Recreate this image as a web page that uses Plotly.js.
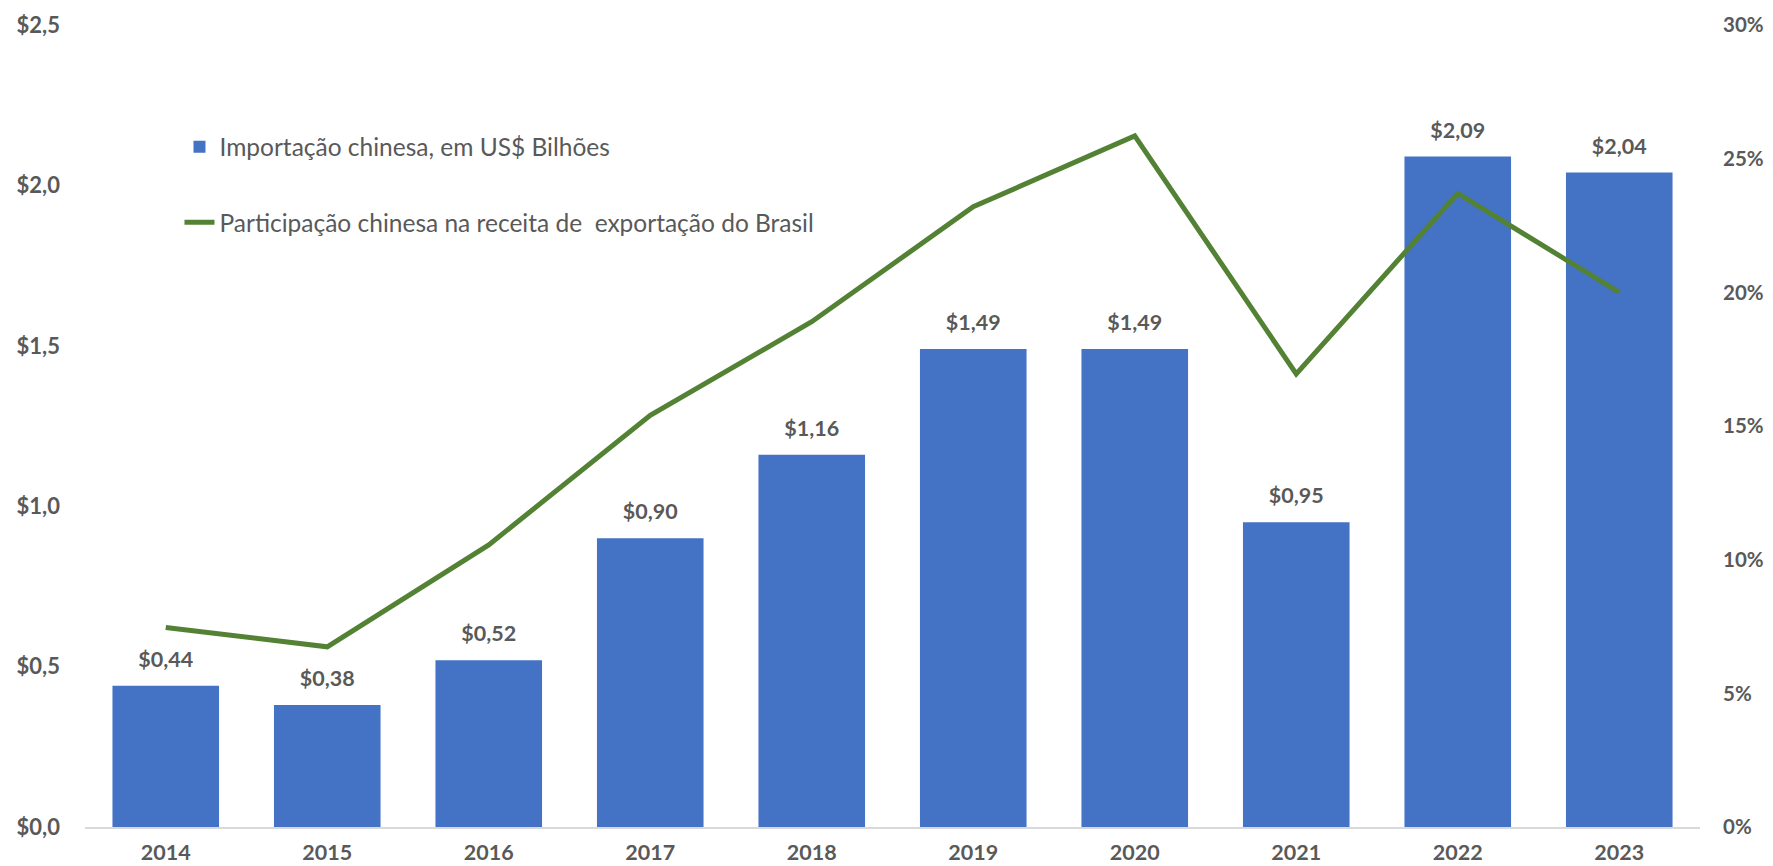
<!DOCTYPE html>
<html>
<head>
<meta charset="utf-8">
<script src="https://cdn.plot.ly/plotly-3.0.1.min.js"></script>
<style>html,body{margin:0;padding:0;background:#fff;}#chart{width:1773px;height:866px;}</style>
</head>
<body>
<div id="chart"></div>
<script>
const years = ['2014','2015','2016','2017','2018','2019','2020','2021','2022','2023'];
const importValues = [0.44, 0.38, 0.52, 0.90, 1.16, 1.49, 1.49, 0.95, 2.09, 2.04];
const sharePercent = [7.46, 6.74, 10.55, 15.4, 18.9, 23.2, 25.85, 16.95, 23.7, 20.0];
const barName = 'Importação chinesa, em US$ Bilhões';
const lineName = 'Participação chinesa na receita de  exportação do Brasil';

const textColor = '#595959';
const fontFam = 'Lato, "Open Sans", sans-serif';

const traces = [
  {
    type: 'bar', x: years, y: importValues, name: barName,
    marker: {color: '#4472C4'},
    legend: 'legend', hoverinfo: 'x+y'
  },
  {
    // value labels above the bars
    type: 'scatter', mode: 'markers+text', x: years, y: importValues,
    marker: {size: 20, color: 'rgba(0,0,0,0)'},
    texttemplate: '$%{y:.2f}', textposition: 'top center', cliponaxis: false,
    textfont: {family: fontFam, size: 21.5, color: textColor, weight: 'bold'},
    showlegend: false, hoverinfo: 'skip'
  },
  {
    type: 'scatter', mode: 'lines', x: years, y: sharePercent, name: lineName,
    yaxis: 'y2', line: {color: '#548235', width: 5},
    legend: 'legend2'
  }
];

const layout = {
  width: 1773, height: 866,
  margin: {l: 85, r: 73, t: 25, b: 39},
  paper_bgcolor: '#fff', plot_bgcolor: '#fff',
  separators: ',.',
  bargap: 0.34,
  font: {family: fontFam, color: textColor},
  xaxis: {
    type: 'category', range: [-0.5, 9.5], autorange: false,
    showgrid: false, zeroline: false,
    showline: true, linecolor: '#d9d9d9', linewidth: 1.5,
    ticks: '', tickfont: {family: fontFam, size: 21.5, color: textColor, weight: 'bold'},
    ticklabelstandoff: 6
  },
  yaxis: {
    range: [0, 2.5], dtick: 0.5, tickformat: '.1f', tickprefix: '$',
    showgrid: false, zeroline: false, showline: false, ticks: '',
    tickfont: {family: fontFam, size: 22, color: textColor, weight: 'bold'},
    ticklabelstandoff: 24
  },
  yaxis2: {
    overlaying: 'y', side: 'right', range: [0, 30], dtick: 5, ticksuffix: '%',
    showgrid: false, zeroline: false, showline: false, ticks: '',
    tickfont: {family: fontFam, size: 20.5, color: textColor, weight: 'bold'},
    ticklabelstandoff: 22
  },
  showlegend: true,
  legend: {
    x: 0.0585, y: 0.848, xanchor: 'left', yanchor: 'middle',
    bgcolor: 'rgba(0,0,0,0)', font: {family: fontFam, size: 24.5, color: textColor}
  },
  legend2: {
    x: 0.0585, y: 0.754, xanchor: 'left', yanchor: 'middle',
    bgcolor: 'rgba(0,0,0,0)', font: {family: fontFam, size: 24.5, color: textColor}
  }
};

Plotly.newPlot('chart', traces, layout, {displayModeBar: false, staticPlot: true});
</script>
</body>
</html>
